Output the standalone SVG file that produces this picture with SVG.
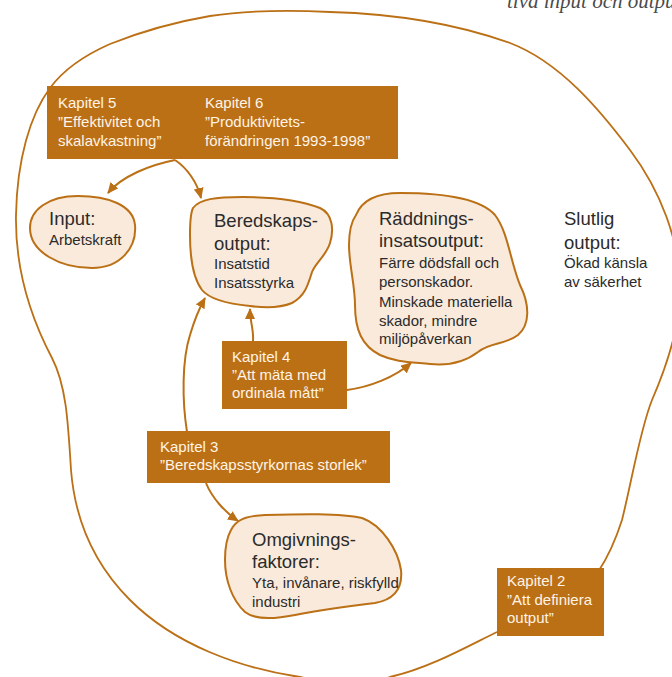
<svg xmlns="http://www.w3.org/2000/svg" width="672" height="677" viewBox="0 0 672 677">
  <style>
    .outline { fill: none; stroke: #BB7016; stroke-width: 1.8; }
    .blob { fill: #F9EADB; stroke: #BB7016; stroke-width: 2; }
    .box { fill: #BB7016; }
    .boxtxt { font-family: "Liberation Sans", Arial, sans-serif; font-size: 15px; fill: #FFF4E6; }
    .head { font-family: "Liberation Sans", Arial, sans-serif; font-size: 18.5px; fill: #2B2B2B; }
    .sub { font-family: "Liberation Sans", Arial, sans-serif; font-size: 15px; fill: #2B2B2B; }
    .conn { fill: none; stroke: #BB7016; stroke-width: 2; marker-end: url(#arrow); }
    .caption { font-family: "Liberation Serif", "Times New Roman", serif; font-style: italic; font-size: 21px; fill: #4A4A4A; }
  </style>
  <defs>
    <marker id="arrow" markerUnits="userSpaceOnUse" markerWidth="12" markerHeight="10" refX="10" refY="5" orient="auto">
      <path d="M0,0 L11,5 L0,10 z" fill="#BB7016"/>
    </marker>
  </defs>

  <rect width="672" height="677" fill="#FFFFFF"/>

  <text class="caption" x="507" y="8">tiva input och output</text>

  <!-- outer boundary: final output -->
  <g id="slutlig-output">
    <path class="outline" d="M 300,677 C 240,668 175,645 130,600 C 95,565 75,520 71,470 C 68,420 66,385 52,358 C 32,320 15,270 16,215 C 17,160 30,115 50,88 C 64,69 85,55 110,44 C 140,32 175,22 210,16 C 250,10 290,10 330,12 C 400,14 460,25 510,43 C 560,62 600,110 630,150 C 660,190 680,240 680,290 C 680,330 665,370 652,400 C 640,430 632,480 622,520 C 614,545 606,560 598,572 C 580,600 520,620 497,632 C 470,645 430,668 390,677 C 360,686 330,684 300,677 Z"/>
    <text class="head" x="564" y="225">Slutlig</text>
    <text class="head" x="564" y="249">output:</text>
    <text class="sub" x="564" y="268">Ökad känsla</text>
    <text class="sub" x="564" y="287">av säkerhet</text>
  </g>

  <!-- connectors -->
  <g id="connectors">
    <path class="conn" d="M 175,160 C 150,165 122,176 108,193"/>
    <path class="conn" d="M 175,160 C 187,168 197,182 201,198"/>
    <path class="conn" d="M 187,432 C 182,400 182,360 190,335 C 195,318 200,307 205,298"/>
    <path class="conn" d="M 253,341 C 254,330 250,322 250,309"/>
    <path class="conn" d="M 347,390 C 370,387 395,377 411,363"/>
    <path class="conn" d="M 206,483 C 212,498 225,512 238,521"/>
  </g>

  <g id="input">
    <path class="blob" d="M 30,228 C 30,210 48,196 78,196 C 108,196 133,205 135,225 C 137,248 120,268 92,268 C 60,268 30,252 30,228 Z"/>
    <text class="head" x="49" y="225">Input:</text>
    <text class="sub" x="49" y="245">Arbetskraft</text>
  </g>

  <g id="beredskapsoutput">
    <path class="blob" d="M 193,208 C 200,199 215,197 243,197 C 270,197 300,200 320,208 C 333,214 334,230 330,243 C 326,256 316,262 312,272 C 308,285 305,296 292,303 C 280,308 265,308 250,306 C 230,304 210,300 202,290 C 193,278 190,260 190,235 C 190,224 190,214 193,208 Z"/>
    <text class="head" x="214" y="227">Beredskaps-</text>
    <text class="head" x="214" y="250">output:</text>
    <text class="sub" x="214" y="269">Insatstid</text>
    <text class="sub" x="214" y="288">Insatsstyrka</text>
  </g>

  <g id="raddningsinsatsoutput">
    <path class="blob" d="M 356,215 C 362,200 378,193 400,193 C 440,193 480,198 495,215 C 508,232 510,260 520,285 C 530,305 530,325 518,335 C 505,345 490,342 478,352 C 465,362 450,366 430,364 C 410,362 395,362 380,355 C 362,346 355,330 355,305 C 355,285 349,265 349,245 C 349,232 351,222 356,215 Z"/>
    <text class="head" x="379" y="225">Räddnings-</text>
    <text class="head" x="379" y="247">insatsoutput:</text>
    <text class="sub" x="379" y="268">Färre dödsfall och</text>
    <text class="sub" x="379" y="287">personskador.</text>
    <text class="sub" x="379" y="307">Minskade materiella</text>
    <text class="sub" x="379" y="326">skador, mindre</text>
    <text class="sub" x="379" y="344">miljöpåverkan</text>
  </g>

  <g id="omgivningsfaktorer">
    <path class="blob" d="M 231,530 C 236,520 245,516 265,515 C 300,514 340,513 362,518 C 382,525 398,550 401,570 C 403,590 392,600 375,603 C 350,606 320,610 295,615 C 275,619 255,620 245,612 C 232,600 225,580 225,560 C 225,548 227,537 231,530 Z"/>
    <text class="head" x="252" y="546">Omgivnings-</text>
    <text class="head" x="252" y="568">faktorer:</text>
    <text class="sub" x="252" y="588">Yta, invånare, riskfylld</text>
    <text class="sub" x="252" y="607">industri</text>
  </g>

  <g id="kapitel-5-6">
    <rect class="box" x="47" y="86" width="351" height="73"/>
    <text class="boxtxt" x="58" y="108">Kapitel 5</text>
    <text class="boxtxt" x="58" y="127">”Effektivitet och</text>
    <text class="boxtxt" x="58" y="146">skalavkastning”</text>
    <text class="boxtxt" x="205" y="108">Kapitel 6</text>
    <text class="boxtxt" x="205" y="127">”Produktivitets-</text>
    <text class="boxtxt" x="205" y="146">förändringen 1993-1998”</text>
  </g>

  <g id="kapitel-4">
    <rect class="box" x="222" y="341" width="125" height="68"/>
    <text class="boxtxt" x="232" y="362">Kapitel 4</text>
    <text class="boxtxt" x="232" y="380">”Att mäta med</text>
    <text class="boxtxt" x="232" y="398">ordinala mått”</text>
  </g>

  <g id="kapitel-3">
    <rect class="box" x="147" y="431" width="243" height="52"/>
    <text class="boxtxt" x="160" y="452">Kapitel 3</text>
    <text class="boxtxt" x="160" y="470">”Beredskapsstyrkornas storlek”</text>
  </g>

  <g id="kapitel-2">
    <rect class="box" x="497" y="568" width="107" height="68"/>
    <text class="boxtxt" x="507" y="586">Kapitel 2</text>
    <text class="boxtxt" x="507" y="605">”Att definiera</text>
    <text class="boxtxt" x="507" y="623">output”</text>
  </g>
</svg>
